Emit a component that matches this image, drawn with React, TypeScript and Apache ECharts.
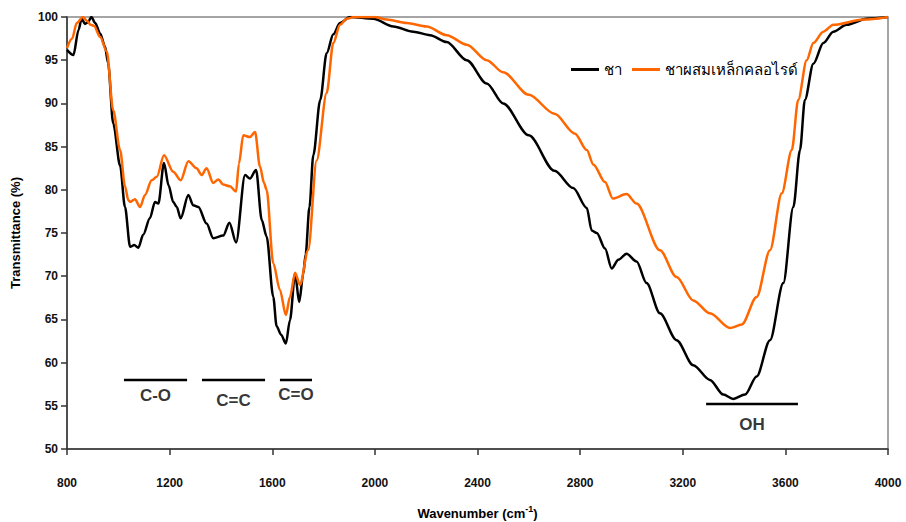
import React, { useEffect, useRef } from "react";
import * as echarts from "echarts";

const seriesNames = ["ชา", "ชาผสมเหล็กคลอไรด์"];

const teaWn = [800, 825, 845, 857, 870, 882, 895, 910, 929, 948, 960, 980, 1007, 1026, 1046, 1062, 1078, 1097, 1123, 1143, 1156, 1178, 1196, 1214, 1228, 1243, 1273, 1292, 1312, 1344, 1370, 1409, 1433, 1459, 1494, 1513, 1537, 1559, 1578, 1604, 1617, 1635, 1653, 1669, 1689, 1705, 1721, 1730, 1745, 1760, 1787, 1812, 1838, 1864, 1903, 1994, 2072, 2150, 2215, 2280, 2358, 2436, 2500, 2600, 2700, 2773, 2826, 2845, 2865, 2897, 2923, 2949, 2981, 3020, 3059, 3111, 3176, 3241, 3306, 3358, 3397, 3443, 3488, 3540, 3592, 3631, 3657, 3676, 3709, 3748, 3787, 3839, 3917, 4000];
const teaT = [96.2, 95.6, 98.5, 99.8, 99.2, 99.4, 100, 99.3, 98.1, 96.6, 94.7, 87.7, 82.8, 78.0, 73.4, 73.6, 73.3, 74.8, 76.7, 78.6, 78.4, 83.1, 80.5, 78.6, 78.0, 76.7, 79.4, 78.2, 78.0, 76.1, 74.4, 74.7, 76.2, 73.9, 81.7, 81.3, 82.3, 76.5, 74.6, 67.6, 64.2, 63.2, 62.2, 64.9, 70.3, 67.0, 70.3, 72.5, 78.0, 84.0, 90.4, 95.8, 98.0, 99.3, 100, 99.8, 98.9, 98.3, 97.9, 97.1, 95.0, 92.3, 90.0, 86.3, 82.2, 80.2, 77.9, 75.3, 75.0, 73.2, 70.9, 71.9, 72.6, 71.7, 69.2, 65.7, 62.6, 59.7, 58.0, 56.3, 55.8, 56.3, 58.4, 62.6, 69.2, 78.0, 84.6, 90.4, 94.6, 97.0, 98.3, 99.1, 99.8, 100];

const ironWn = [800, 820, 838, 862, 880, 892, 905, 929, 955, 980, 1007, 1026, 1039, 1046, 1065, 1085, 1104, 1130, 1150, 1178, 1214, 1243, 1273, 1305, 1325, 1344, 1370, 1390, 1409, 1435, 1459, 1470, 1487, 1513, 1533, 1552, 1568, 1578, 1604, 1630, 1653, 1669, 1689, 1708, 1740, 1773, 1812, 1838, 1864, 1890, 1920, 2000, 2046, 2124, 2202, 2280, 2358, 2436, 2500, 2600, 2700, 2780, 2826, 2852, 2897, 2927, 2981, 3020, 3111, 3176, 3241, 3306, 3384, 3430, 3488, 3540, 3586, 3625, 3650, 3683, 3709, 3748, 3787, 3904, 4000];
const ironT = [96.4, 97.5, 99.3, 100, 99.5, 99.1, 99.0, 97.7, 96.0, 89.2, 84.6, 80.4, 78.8, 78.6, 78.9, 78.0, 79.4, 81.1, 81.5, 84.0, 82.1, 81.1, 83.3, 82.5, 81.7, 82.5, 80.8, 81.2, 80.6, 80.4, 79.8, 83.0, 86.3, 86.1, 86.7, 82.7, 80.8, 80.0, 71.5, 68.4, 65.5, 67.6, 70.4, 69.0, 73.0, 83.4, 91.2, 97.0, 99.1, 99.8, 100, 100, 99.7, 99.3, 98.9, 97.9, 96.8, 95.0, 93.6, 91.0, 88.8, 86.5, 84.6, 82.9, 80.9, 79.0, 79.5, 78.4, 73.0, 69.9, 67.2, 65.7, 64.0, 64.4, 67.6, 73.0, 79.6, 84.6, 90.4, 95.0, 97.0, 98.3, 99.1, 99.7, 100];

// band annotations: label, start wavenumber, end wavenumber, level
const bandLabels = ["C-O", "C=C", "C=O", "OH"];
const bandStart = [1022, 1326, 1630, 3291];
const bandEnd = [1268, 1572, 1755, 3649];
const bandLevel = [58, 58, 58, 55.2];
const bandLabelOffset = [7, 12, 6, 11];

const xTicks = [800, 4000, 400];
const yTicks = [50, 100, 5];

export default function App() {
  const ref = useRef<HTMLDivElement>(null);
  useEffect(() => {
    document.body.style.margin = "0";
    const chart = echarts.init(ref.current!, null, { renderer: "svg" });
    const font = "Arial, 'Liberation Sans', Helvetica, sans-serif";
    const bandSeries: any[] = [];
    bandLabels.forEach((lab, i) => {
      const mid = (bandStart[i] + bandEnd[i]) / 2;
      bandSeries.push({
        type: "line",
        name: "band" + i,
        silent: true,
        symbol: "none",
        lineStyle: { color: "#000", width: 2.5 },
        data: [
          [bandStart[i], bandLevel[i]],
          [bandEnd[i], bandLevel[i]],
        ],
      });
      bandSeries.push({
        type: "scatter",
        name: "bandLabel" + i,
        silent: true,
        symbol: "circle",
        symbolSize: 1,
        itemStyle: { color: "rgba(0,0,0,0)" },
        label: {
          show: true,
          formatter: lab,
          position: "bottom",
          distance: bandLabelOffset[i],
          color: "#000",
          fontWeight: "bold",
          fontSize: 17,
          fontFamily: font,
        },
        data: [[mid, bandLevel[i]]],
      });
    });
    chart.setOption({
      animation: false,
      backgroundColor: "#fff",
      grid: {
        left: 67,
        right: 18,
        top: 17,
        bottom: 73,
        show: true,
        borderColor: "#888",
        borderWidth: 1.5,
        outerBoundsMode: "none",
        containLabel: false,
      },
      legend: {
        data: seriesNames,
        left: 566,
        top: 57,
        icon: "rect",
        itemWidth: 28,
        itemHeight: 3,
        itemGap: 10,
        textStyle: { color: "#000", fontSize: 15, fontFamily: font },
      },
      xAxis: {
        type: "value",
        min: xTicks[0],
        max: xTicks[1],
        interval: xTicks[2],
        name: "Wavenumber (cm{sup|-1})",
        nameLocation: "middle",
        nameGap: 55,
        nameTextStyle: {
          color: "#000",
          fontWeight: "bold",
          fontSize: 13,
          fontFamily: font,
          rich: {
            sup: { fontSize: 9, fontWeight: "bold", verticalAlign: "top", padding: [0, 0, 10, 0], color: "#000", fontFamily: font },
          },
        },
        axisLine: { show: true, lineStyle: { color: "#333", width: 1.5 } },
        axisTick: { show: true, inside: false, length: 6, lineStyle: { color: "#333", width: 1.5 } },
        axisLabel: {
          color: "#111",
          fontWeight: "bold",
          fontSize: 12,
          fontFamily: font,
          margin: 28,
          formatter: (v: number) => String(v),
        },
        splitLine: { show: false },
      },
      yAxis: {
        type: "value",
        min: yTicks[0],
        max: yTicks[1],
        interval: yTicks[2],
        name: "Transmittance (%)",
        nameLocation: "middle",
        nameGap: 45,
        nameTextStyle: { color: "#000", fontWeight: "bold", fontSize: 13, fontFamily: font },
        axisLine: { show: true, lineStyle: { color: "#333", width: 1.5 } },
        axisTick: { show: true, inside: false, length: 6, lineStyle: { color: "#333", width: 1.5 } },
        axisLabel: { color: "#111", fontWeight: "bold", fontSize: 12, fontFamily: font, margin: 9 },
        splitLine: { show: false },
      },
      series: [
        {
          type: "line",
          name: seriesNames[0],
          data: teaWn.map((w, i) => [w, teaT[i]]),
          symbol: "none",
          smooth: 0.3,
          smoothMonotone: "x",
          z: 3,
          color: "#000",
          lineStyle: { color: "#000", width: 2.5 },
        },
        {
          type: "line",
          name: seriesNames[1],
          data: ironWn.map((w, i) => [w, ironT[i]]),
          symbol: "none",
          smooth: 0.3,
          smoothMonotone: "x",
          z: 4,
          color: "#FF6600",
          lineStyle: { color: "#FF6600", width: 2.5 },
        },
        ...bandSeries,
      ],
    });
    return () => chart.dispose();
  }, []);
  return <div ref={ref} style={{ width: 906, height: 522 }} />;
}
